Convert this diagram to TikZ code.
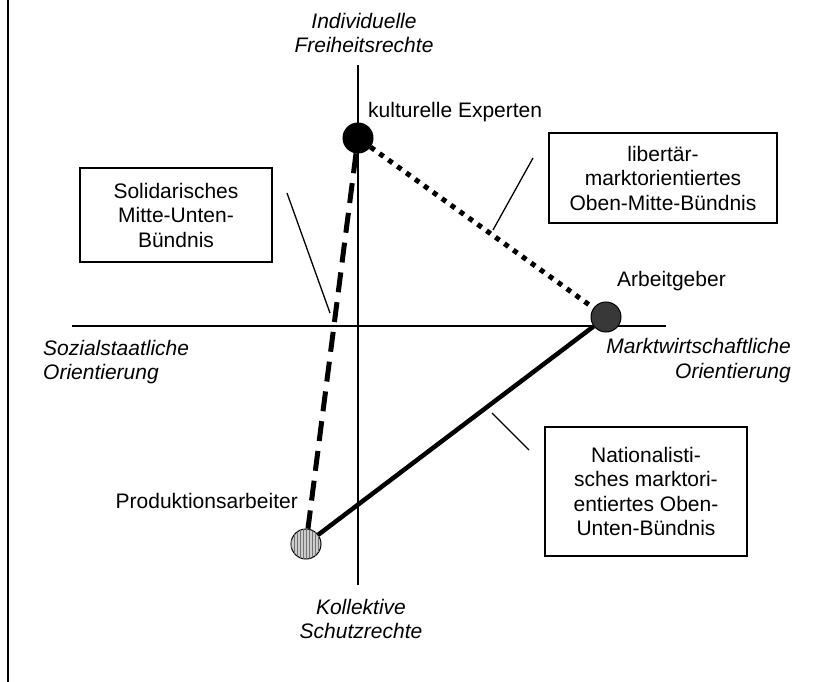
\documentclass[tikz,border=0pt]{standalone}
\usepackage{fontspec}
\setmainfont{Liberation Sans}
\usetikzlibrary{patterns}
\begin{document}
\begin{tikzpicture}[x=1pt,y=-1pt,
  lbl/.style={font=\fontsize{21}{24.5}\selectfont, inner sep=0pt},
  ilbl/.style={inner sep=0pt, font=\fontsize{21}{24.5}\selectfont\itshape},
  box/.style={lbl, draw, line width=1.6pt, align=center},
  actor/.style={circle, draw, line width=1pt, minimum size=30pt, inner sep=0pt},
  axis/.style={line width=1.3pt},
  pointer/.style={line width=1.3pt},
  dashedtie/.style={line width=5pt, dash pattern=on 20pt off 10pt},
  dottedtie/.style={line width=5pt, dash pattern=on 5pt off 6pt},
  solidtie/.style={line width=4.5pt},
]
\useasboundingbox (0,0) rectangle (815,682);

% frame line at left
\coordinate (bt) at (8,0);
\coordinate (bb) at (8,682);
\draw[axis] (bt) -- (bb);

% axes
\coordinate (ytop) at (358,65);
\coordinate (ybot) at (358,585);
\coordinate (xl) at (72,326);
\coordinate (xr) at (666,326);
\draw[axis] (ytop) -- (ybot);
\draw[axis] (xl) -- (xr);

% axis labels
\node[ilbl, align=center] (top) at (364,33) {Individuelle\\Freiheitsrechte};
\node[ilbl, align=center] (bottom) at (361,619) {Kollektive\\Schutzrechte};
\node[ilbl, align=left, anchor=west] (left) at (43,362) {Sozialstaatliche\\Orientierung};
\node[ilbl, align=right, anchor=east] (right) at (791,360.5) {Marktwirtschaftliche\\Orientierung};

% actors
\node[actor, fill=black] (kult) at (358,138) {};
\node[actor, fill=black!78] (arb) at (606,317) {};
\node[actor, fill=gray!40, postaction={pattern=vertical lines, pattern color=black!55}] (prod) at (306,544) {};

% actor labels
\node[lbl, anchor=base west] (kultlbl) at (368,118) {kulturelle Experten};
\node[lbl, anchor=base west] (arblbl) at (617,287) {Arbeitgeber};
\node[lbl, anchor=base east] (prodlbl) at (298,508) {Produktionsarbeiter};

% alliances
\draw[dashedtie] (kult) -- (prod);
\draw[dottedtie] (kult) -- (arb);
\draw[solidtie] (prod) -- (arb);

% boxes
\node[box, minimum width=192pt, minimum height=94pt] (solbox) at (176,215) {Solidarisches\\Mitte-Unten-\\Bündnis};
\node[box, minimum width=228pt, minimum height=90pt] (libbox) at (663,178) {libertär-\\marktorientiertes\\Oben-Mitte-Bündnis};
\node[box, minimum width=202pt, minimum height=129pt] (natbox) at (646,491.5) {Nationalisti-\\sches marktori-\\entiertes Oben-\\Unten-Bündnis};

% pointers
\coordinate (solA) at (287,193);
\coordinate (solB) at (330,313);
\coordinate (libA) at (533,158);
\coordinate (libB) at (493,230);
\coordinate (natA) at (492,413);
\coordinate (natB) at (529,450);
\draw[pointer] (solA) -- (solB);
\draw[pointer] (libA) -- (libB);
\draw[pointer] (natA) -- (natB);
\end{tikzpicture}
\end{document}
